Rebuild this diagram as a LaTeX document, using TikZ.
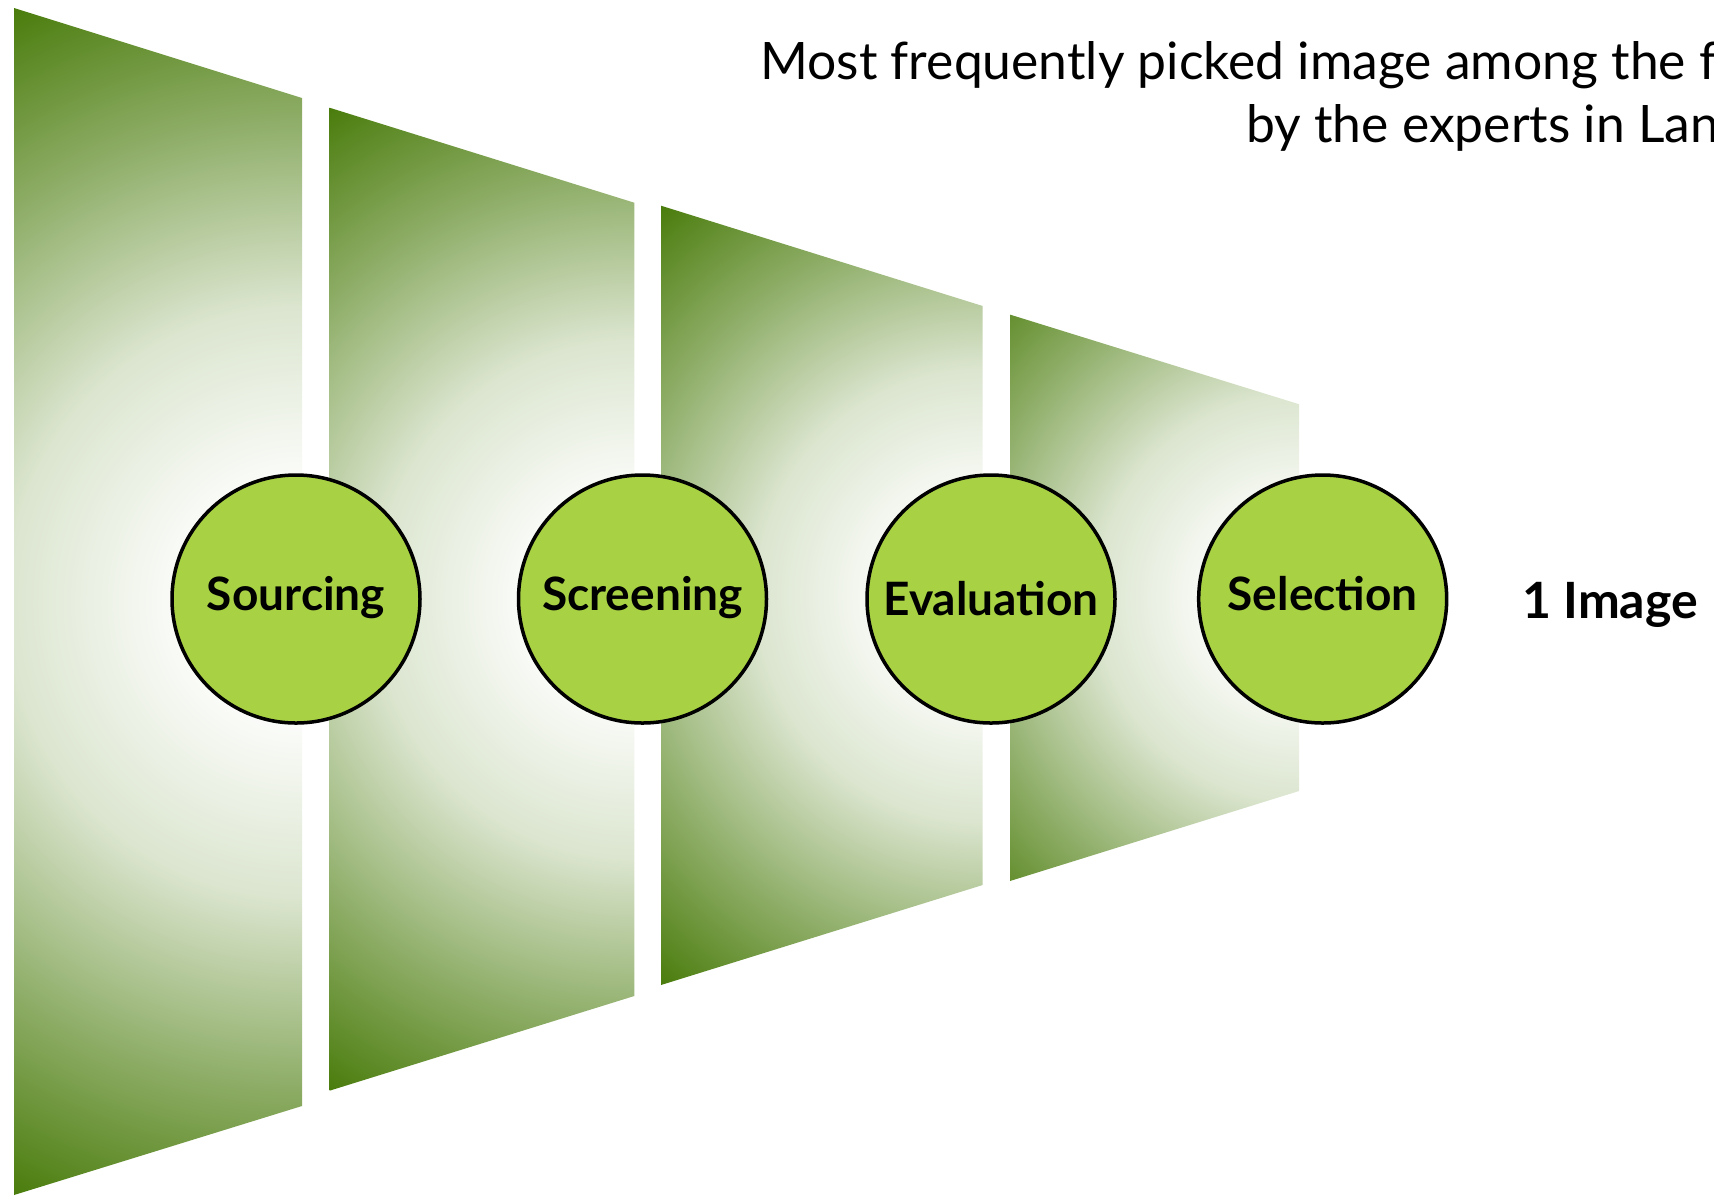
\documentclass[tikz,border=0pt]{standalone}
\usepackage{fontspec}
\setmainfont{Lato}
\definecolor{leaf}{HTML}{4A7C0C}
\definecolor{lime}{HTML}{A8D144}
\colorlet{leafA}{leaf!20!white}
\colorlet{leafB}{leaf!65!white}
% white glow in the middle of the right edge, fading to deep green
% (25bp is the rim of the shaded circle)
\pgfdeclareradialshading{panelglow}{\pgfpointorigin}{%
  color(0bp)=(white); color(3.75bp)=(white); color(11.25bp)=(leafA);
  color(18.75bp)=(leafB); color(25bp)=(leaf); color(50bp)=(leaf)}
\newcommand{\stagefont}{\bfseries\fontsize{23}{27}\selectfont}
\newcommand{\capfont}{\fontsize{25.8}{31}\selectfont}
\newcommand{\outfont}{\bfseries\fontsize{25}{30}\selectfont}
\tikzset{
  stage/.style={circle, draw=black, line width=1.75pt, fill=lime,
    minimum size=124pt, inner sep=0pt, font=\stagefont,
    text height=16.5pt, text depth=5.5pt},
  caption/.style={anchor=base west, inner sep=0pt, font=\capfont},
}
\begin{document}
\begin{tikzpicture}[x=0.5pt, y=-0.5pt]
\useasboundingbox (0,0) rectangle (1714,1196);
\begin{scope}
\clip (0,0) rectangle (1714,1196);
% funnel panels: left x / right x / left top / left bottom / right top / right bottom / mid y / glow radius
\foreach \xa/\xb/\ya/\yb/\yc/\yd/\ym/\r in {
    14/302/8/1195/98/1106/602/660,
    329.5/634.3/107.7/1090.7/202.7/996/599.3/578.5,
    661/982.7/205.7/985/306/885/595.5/505.4,
    1010/1299/314.6/881/404.2/791/597.6/453}{
  \begin{scope}
    \clip (\xa,\ya) -- (\xb,\yc) -- (\xb,\yd) -- (\xa,\yb) -- cycle;
    \shade[shading=panelglow] (\xb,\ym) circle[radius=\r];
  \end{scope}
}
% stages
\node[stage] (sourcing)   at (296,599)    {Sourcing};
\node[stage] (screening)  at (642.5,599)  {Screening};
\node[stage, text depth=0.5pt] (evaluation) at (991,599) {Evaluation};
\node[stage] (selection)  at (1322.7,599) {Selection};
% outcome and caption
\node[anchor=base west, inner sep=0pt, font=\outfont] (outcome) at (1522,618) {1 Image};
\node[caption] (caption1) at (760,79)  {Most frequently picked image among the f};
\node[caption] (caption2) at (1246,142) {by the experts in Lan};
\end{scope}
\end{tikzpicture}
\end{document}
